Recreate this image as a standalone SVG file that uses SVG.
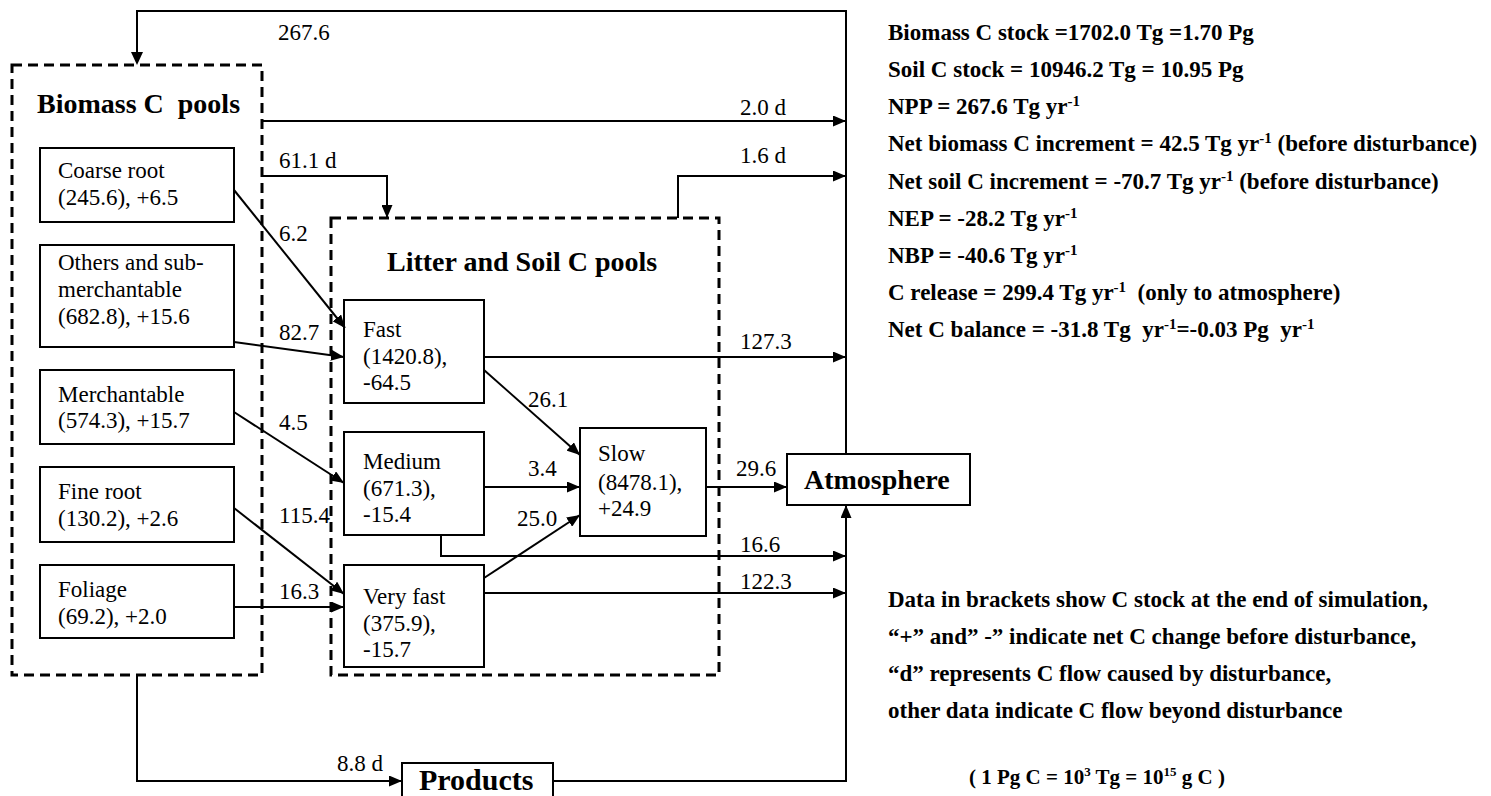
<svg xmlns="http://www.w3.org/2000/svg" width="1491" height="796" viewBox="0 0 1491 796">
<style>
.t{font-family:"Liberation Serif","Times New Roman",serif;font-size:23px;fill:#000}
.b{font-family:"Liberation Serif","Times New Roman",serif;font-size:28px;font-weight:bold;fill:#000}
.r{font-family:"Liberation Serif","Times New Roman",serif;font-size:23px;font-weight:bold;fill:#000}
.sup{font-size:15px}
.box{fill:#fff;stroke:#000;stroke-width:2}
.dash{fill:none;stroke:#000;stroke-width:3;stroke-dasharray:10 6}
.ln{fill:none;stroke:#000;stroke-width:2}
.arr{fill:none;stroke:#000;stroke-width:2;marker-end:url(#ah)}
</style>
<defs>
<marker id="ah" markerUnits="userSpaceOnUse" markerWidth="13" markerHeight="11" refX="13" refY="5.5" orient="auto">
<path d="M0,0 L13,5.5 L0,11 z" fill="#000"/>
</marker>
</defs>
<rect width="1491" height="796" fill="#fff"/>

<g id="biomass-pools">
<rect class="dash" x="12" y="65" width="250" height="610"/>
<text class="b" x="37" y="113" xml:space="preserve">Biomass C  pools</text>
</g>
<g id="litter-pools">
<rect class="dash" x="331" y="218" width="388" height="457"/>
<text class="b" x="387" y="271">Litter and Soil C pools</text>
</g>

<g id="coarse-root">
<rect class="box" x="40" y="148" width="194" height="74"/>
<text class="t" x="58" y="178">Coarse root</text>
<text class="t" x="58" y="205">(245.6), +6.5</text>
</g>
<g id="others">
<rect class="box" x="40" y="245" width="194" height="102"/>
<text class="t" x="58" y="270">Others and sub-</text>
<text class="t" x="58" y="297">merchantable</text>
<text class="t" x="58" y="324">(682.8), +15.6</text>
</g>
<g id="merchantable">
<rect class="box" x="40" y="370" width="194" height="74"/>
<text class="t" x="58" y="402">Merchantable</text>
<text class="t" x="58" y="428">(574.3), +15.7</text>
</g>
<g id="fine-root">
<rect class="box" x="40" y="467" width="194" height="75"/>
<text class="t" x="58" y="499">Fine root</text>
<text class="t" x="58" y="526">(130.2), +2.6</text>
</g>
<g id="foliage">
<rect class="box" x="40" y="565" width="194" height="73"/>
<text class="t" x="58" y="597">Foliage</text>
<text class="t" x="58" y="624">(69.2), +2.0</text>
</g>

<g id="fast">
<rect class="box" x="344" y="300" width="140" height="103"/>
<text class="t" x="363" y="337">Fast</text>
<text class="t" x="363" y="364">(1420.8),</text>
<text class="t" x="363" y="390">-64.5</text>
</g>
<g id="medium">
<rect class="box" x="344" y="432" width="140" height="103"/>
<text class="t" x="363" y="469">Medium</text>
<text class="t" x="363" y="496">(671.3),</text>
<text class="t" x="363" y="522">-15.4</text>
</g>
<g id="very-fast">
<rect class="box" x="344" y="565" width="140" height="102"/>
<text class="t" x="363" y="604">Very fast</text>
<text class="t" x="363" y="631">(375.9),</text>
<text class="t" x="363" y="657">-15.7</text>
</g>
<g id="slow">
<rect class="box" x="580" y="428" width="126" height="108"/>
<text class="t" x="598" y="461">Slow</text>
<text class="t" x="598" y="490">(8478.1),</text>
<text class="t" x="598" y="516">+24.9</text>
</g>
<g id="atmosphere">
<rect class="box" x="787" y="454" width="183" height="51"/>
<text class="b" x="804" y="489">Atmosphere</text>
</g>
<g id="products">
<rect class="box" x="402" y="763" width="151" height="45"/>
<text class="b" x="419" y="790" style="font-size:30px">Products</text>
</g>

<g id="connectors">
<polyline class="ln" points="846,454 846,11 137,11 137,53"/>
<path d="M131,52 L137,65 L143,52 z" fill="#000"/>
<polyline class="arr" points="262,121 846,121"/>
<polyline class="arr" points="262,176 387,176 387,218"/>
<polyline class="arr" points="678,218 678,176 846,176"/>
<line class="arr" x1="234" y1="190" x2="345" y2="328"/>
<line class="arr" x1="234" y1="342" x2="344" y2="357"/>
<line class="arr" x1="234" y1="412" x2="344" y2="483"/>
<line class="arr" x1="234" y1="508" x2="344" y2="594"/>
<line class="arr" x1="234" y1="607" x2="344" y2="607"/>
<line class="arr" x1="484" y1="357" x2="846" y2="357"/>
<line class="arr" x1="484" y1="370" x2="580" y2="455"/>
<line class="arr" x1="484" y1="487" x2="580" y2="487"/>
<line class="arr" x1="484" y1="578" x2="580" y2="515"/>
<polyline class="arr" points="441,535 441,556 846,556"/>
<line class="arr" x1="484" y1="593" x2="846" y2="593"/>
<line class="arr" x1="706" y1="487" x2="787" y2="487"/>
<polyline class="arr" points="137,675 137,781 402,781"/>
<polyline class="arr" points="553,781 846,781 846,505"/>
</g>

<g id="flow-labels">
<text class="t" x="278" y="40">267.6</text>
<text class="t" x="740" y="115">2.0 d</text>
<text class="t" x="279" y="168">61.1 d</text>
<text class="t" x="740" y="163">1.6 d</text>
<text class="t" x="279" y="241">6.2</text>
<text class="t" x="279" y="340">82.7</text>
<text class="t" x="279" y="430">4.5</text>
<text class="t" x="279" y="523">115.4</text>
<text class="t" x="279" y="599">16.3</text>
<text class="t" x="740" y="349">127.3</text>
<text class="t" x="528" y="407">26.1</text>
<text class="t" x="528" y="476">3.4</text>
<text class="t" x="517" y="526">25.0</text>
<text class="t" x="736" y="476">29.6</text>
<text class="t" x="740" y="552">16.6</text>
<text class="t" x="740" y="589">122.3</text>
<text class="t" x="337" y="771">8.8 d</text>
</g>

<g id="summary">
<text class="r" x="888" y="40">Biomass C stock =1702.0 Tg =1.70 Pg</text>
<text class="r" x="888" y="77">Soil C stock = 10946.2 Tg = 10.95 Pg</text>
<text class="r" x="888" y="114">NPP = 267.6 Tg yr<tspan class="sup" dy="-8">-1</tspan></text>
<text class="r" x="888" y="151">Net biomass C increment = 42.5 Tg yr<tspan class="sup" dy="-8">-1</tspan><tspan dy="8"> (before disturbance)</tspan></text>
<text class="r" x="888" y="189">Net soil C increment = -70.7 Tg yr<tspan class="sup" dy="-8">-1</tspan><tspan dy="8"> (before disturbance)</tspan></text>
<text class="r" x="888" y="226">NEP = -28.2 Tg yr<tspan class="sup" dy="-8">-1</tspan></text>
<text class="r" x="888" y="263">NBP = -40.6 Tg yr<tspan class="sup" dy="-8">-1</tspan></text>
<text class="r" x="888" y="300" xml:space="preserve">C release = 299.4 Tg yr<tspan class="sup" dy="-8">-1</tspan><tspan dy="8">  (only to atmosphere)</tspan></text>
<text class="r" x="888" y="337" xml:space="preserve">Net C balance = -31.8 Tg  yr<tspan class="sup" dy="-8">-1</tspan><tspan dy="8">=-0.03 Pg  yr</tspan><tspan class="sup" dy="-8">-1</tspan></text>
</g>

<g id="notes">
<text class="r" x="888" y="607">Data in brackets show C stock at the end of simulation,</text>
<text class="r" x="888" y="644">“+” and” -” indicate net C change before disturbance,</text>
<text class="r" x="888" y="681">“d” represents C flow caused by disturbance,</text>
<text class="r" x="888" y="718">other data indicate C flow beyond disturbance</text>
<text class="r" x="1097" y="784" text-anchor="middle" style="font-size:21px">( 1 Pg C = 10<tspan style="font-size:13px" dy="-8">3</tspan><tspan dy="8"> Tg = 10</tspan><tspan style="font-size:13px" dy="-8">15</tspan><tspan dy="8"> g C )</tspan></text>
</g>
</svg>
